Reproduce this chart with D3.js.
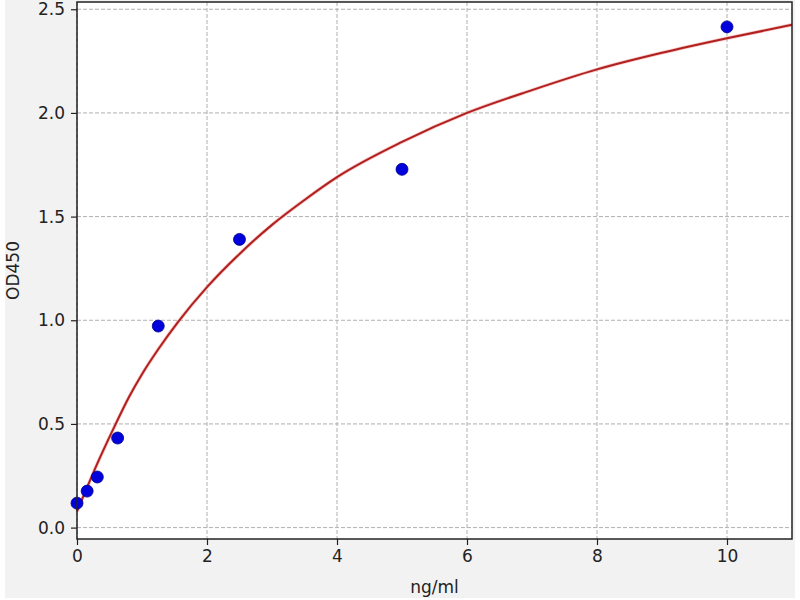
<!DOCTYPE html>
<html>
<head>
<meta charset="utf-8">
<script src="https://cdn.jsdelivr.net/npm/d3@7"></script>
<style>
  body { margin: 0; background: #fff; }
  svg { display: block; font-family: "DejaVu Sans", sans-serif; }
</style>
</head>
<body>
<div id="root"></div>
<script>
// standard points (ng/ml vs OD450)
const conc = [0, 0.156, 0.3125, 0.625, 1.25, 2.5, 5, 10];
const od = [0.118, 0.176, 0.244, 0.432, 0.972, 1.39, 1.728, 2.415];

// fitted curve
const curveX = [0, 0.15, 0.3, 0.55, 0.8, 1.0, 1.25, 1.55, 2, 2.5, 3, 3.5, 4, 5, 6, 7, 8, 9, 10, 11];
const curveY = [0.078, 0.19, 0.30, 0.47, 0.63, 0.74, 0.86, 0.99, 1.16, 1.32, 1.46, 1.58, 1.69, 1.86, 2.00, 2.11, 2.21, 2.29, 2.36, 2.425];

const xTicks = [0, 2, 4, 6, 8, 10];
const yTicks = [0.0, 0.5, 1.0, 1.5, 2.0, 2.5];

const W = 800, H = 600;
const margin = { top: 2, right: 8, bottom: 61, left: 77 };
const width = W - margin.left - margin.right;
const height = H - margin.top - margin.bottom;

const svg = d3.select("#root").append("svg")
  .attr("width", W)
  .attr("height", H);

// figure background
svg.append("rect")
  .attr("x", 5).attr("y", 0)
  .attr("width", 790).attr("height", 598)
  .attr("fill", "#f2f2f2");

const xScale = d3.scaleLinear().domain([0, 11]).range([0, width]);
const yScale = d3.scaleLinear().domain([-0.055, 2.535]).range([height, 0]);

const g = svg.append("g")
  .attr("transform", `translate(${margin.left}, ${margin.top})`);

g.append("rect")
  .attr("width", width).attr("height", height)
  .attr("fill", "#fff");

// grid
g.append("g").selectAll("line").data(xTicks).enter().append("line")
  .attr("x1", d => xScale(d)).attr("x2", d => xScale(d))
  .attr("y1", 0).attr("y2", height)
  .attr("stroke", "#b0b0b0").attr("stroke-width", 1)
  .attr("stroke-dasharray", "4,2");

g.append("g").selectAll("line").data(yTicks).enter().append("line")
  .attr("x1", 0).attr("x2", width)
  .attr("y1", d => yScale(d)).attr("y2", d => yScale(d))
  .attr("stroke", "#b0b0b0").attr("stroke-width", 1)
  .attr("stroke-dasharray", "4,2");

// axes
const xAxis = d3.axisBottom(xScale).tickValues(xTicks).tickFormat(d3.format("d"))
  .tickSize(6).tickPadding(5);
const yAxis = d3.axisLeft(yScale).tickValues(yTicks).tickFormat(d3.format(".1f"))
  .tickSize(6).tickPadding(6);

const xa = g.append("g")
  .attr("transform", `translate(0, ${height})`)
  .call(xAxis);
const ya = g.append("g").call(yAxis);

[xa, ya].forEach(a => {
  a.select(".domain").remove();
  a.selectAll("line").attr("stroke", "#222").attr("stroke-width", 1.2);
  a.selectAll("text").attr("fill", "#222").style("font-size", "17px")
    .style("font-family", "DejaVu Sans, sans-serif");
});

// fitted curve
const line = d3.line()
  .x((d, i) => xScale(curveX[i]))
  .y(d => yScale(d))
  .curve(d3.curveMonotoneX);

g.append("path")
  .datum(curveY)
  .attr("d", line)
  .attr("fill", "none")
  .attr("stroke", "#f2a0a0").attr("stroke-width", 3.5).attr("opacity", 0.6);

g.append("path")
  .datum(curveY)
  .attr("d", line)
  .attr("fill", "none")
  .attr("stroke", "#b0201e").attr("stroke-width", 2);

// points
g.append("g").selectAll("circle").data(conc).enter().append("circle")
  .attr("cx", d => xScale(d))
  .attr("cy", (d, i) => yScale(od[i]))
  .attr("r", 6)
  .attr("fill", "#0000dd")
  .attr("stroke", "#00008a").attr("stroke-width", 0.8);

// frame
g.append("rect")
  .attr("width", width).attr("height", height)
  .attr("fill", "none")
  .attr("stroke", "#222").attr("stroke-width", 1.5);

// labels
svg.append("text")
  .attr("x", margin.left + width / 2)
  .attr("y", 593)
  .attr("text-anchor", "middle")
  .attr("fill", "#222")
  .style("font-size", "17px")
  .text("ng/ml");

svg.append("text")
  .attr("transform", `translate(19, ${margin.top + height / 2}) rotate(-90)`)
  .attr("text-anchor", "middle")
  .attr("fill", "#222")
  .style("font-size", "17px")
  .text("OD450");
</script>
</body>
</html>
